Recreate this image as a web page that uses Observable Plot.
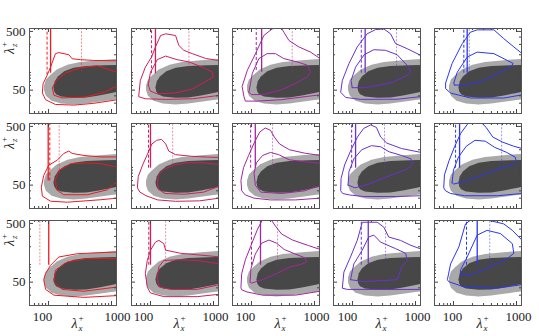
<!DOCTYPE html>
<html><head><meta charset="utf-8">
<script src="https://cdn.jsdelivr.net/npm/d3@7"></script>
<script src="https://cdn.jsdelivr.net/npm/@observablehq/plot@0.6"></script>
<style>
body{margin:0;background:#fff;}
#chart{position:relative;width:539px;height:336px;overflow:hidden;font-family:"Liberation Serif","DejaVu Serif",serif;color:#222;}
.lab{position:absolute;white-space:nowrap;line-height:1;}
.lam{position:relative;display:inline-block;font-style:italic;font-size:14px;line-height:14px;}
.sup{position:absolute;left:100%;top:-3px;font-size:9px;line-height:9px;font-style:normal;margin-left:1px;}
.sub{position:absolute;left:100%;top:7px;font-size:9px;line-height:9px;font-style:italic;margin-left:1px;}
.ylab{transform:translate(-50%,-50%) rotate(-90deg);padding-right:6px;}
</style></head><body><div id="chart"></div>
<script>
// axes
const xDomain = [50, 1200];
const yDomain = [20, 560];
const xMajor = [100, 1000];
const xMinor = [60, 70, 80, 90, 200, 300, 400, 500, 600, 700, 800, 900];
const yMajor = [50, 500];
const yMinor = [20, 30, 40, 60, 70, 80, 90, 100, 200, 300, 400];
const colColors = ["#ea1b24", "#d01f5c", "#a1279d", "#6b31cc", "#2c36ee"];

// reference (filled) contours [lambda_x, lambda_z]
const lightGray = [[85,60],[91,76],[105,89],[135,112],[200,135],[316,151],[631,162],[1259,170],[1585,174],[1585,35.5],[1000,33.9],[631,31.6],[398,29.5],[251,28.5],[158,29.5],[112,33],[91,40],[85,50]];
const darkGray = [[120,56],[126,71],[141,85],[178,105],[251,120],[398,129],[794,132],[1585,135],[1585,50],[1000,44.7],[631,40.7],[398,37.6],[251,37.2],[158,38.9],[132,42.7],[123,47.9]];

// coloured contour lines per panel
const r1c1Outer = [[1610,37],[1230,34.3],[524,29.8],[253,27.8],[129,28.5],[90,34.3],[80,44.9],[82,64],[95,89],[108,123],[129,209],[146,218],[211,200],[238,171],[322,165],[524,160],[1230,158],[1610,157]];
const r1c1Inner = [[1610,65],[1230,60],[760,45.6],[365,38],[165,36.8],[122,41],[115,55],[134,73],[186,98],[322,120],[595,130],[1230,101],[1610,95]];
const r1c2Outer = [[1610,40.5],[1190,40.5],[460,35.6],[174,34.8],[83,35.6],[65,38.7],[69,73],[83,123],[104,183],[120,272],[145,426],[174,455],[250,426],[282,288],[338,238],[460,209],[750,173],[1190,160],[1610,147]];
const r1c2Inner = [[92,61],[100,101],[128,165],[174,190],[265,165],[407,151],[663,123],[970,101],[970,82],[750,70],[460,52],[250,45],[130,43],[100,48],[92,61]];
const r1c3Outer = [[1610,40],[1215,41.6],[290,34.3],[123,32.5],[80,32.5],[76,38.7],[71,57.7],[86,109],[116,209],[157,426],[213,550],[290,600],[326,485],[393,350],[565,272],[866,222],[1215,173],[1610,160]];
const r1c3Inner = [[91,46],[103,96],[131,172],[177,209],[241,209],[326,172],[532,151],[767,133],[866,101],[767,84],[500,65],[290,50],[150,42],[100,42],[91,46]];
const r1c4Outer = [[1610,38],[1200,38.7],[512,35],[134,34.8],[78,37.5],[65,46],[69,73],[88,142],[119,272],[171,455],[233,537],[315,550],[402,455],[482,310],[742,253],[1200,196],[1610,175]];
const r1c4Inner = [[99,55],[95,73],[112,123],[153,200],[218,244],[335,238],[512,200],[783,123],[839,101],[742,89],[402,66],[153,55],[99,55]];
const r1c5Outer = [[1610,40],[1230,41.6],[628,36.7],[186,36.7],[90,44.6],[75,53],[75,66],[95,142],[138,310],[186,485],[238,531],[438,531],[628,376],[907,272],[1230,209],[1610,185]];
const r1c5Inner = [[104,61],[101,66],[115,101],[165,183],[238,222],[438,209],[714,160],[885,142],[806,123],[628,109],[438,89],[270,69.5],[146,61],[104,61]];
const r2c1Outer = [[1610,30],[1230,30],[670,28.2],[199,25.6],[108,26.6],[80,32.5],[77,46],[84,73],[101,109],[138,133],[175,173],[210,190],[238,173],[365,160],[670,151],[1230,151],[1610,151]];
const r2c1Inner = [[1610,52],[1230,57.7],[858,41.6],[412,34.3],[175,34.3],[134,41.6],[129,61.5],[146,89],[225,116],[412,119],[670,116],[1230,101],[1610,98]];
const r2c2Outer = [[1610,30],[1230,30],[600,27],[250,26.5],[130,28],[85,33],[68,38],[62,45],[64,70],[75,110],[90,170],[105,250],[125,290],[150,300],[175,250],[195,190],[250,165],[450,155],[800,150],[1230,148],[1610,147]];
const r2c2Inner = [[1610,55],[1230,48],[700,38],[350,35],[170,36],[135,42],[128,55],[135,75],[170,95],[250,112],[400,120],[700,120],[1230,112],[1610,110]];
const r2c3Outer = [[1610,30],[1230,30],[500,28],[200,28],[110,30],[80,34],[70,40],[68,60],[75,100],[90,160],[110,260],[135,400],[165,470],[200,430],[230,330],[280,250],[400,200],[700,175],[1230,160],[1610,155]];
const r2c3Inner = [[1610,55],[1230,50],[700,40],[300,36],[140,38],[115,50],[110,80],[120,120],[150,160],[200,180],[270,165],[400,135],[700,125],[1230,118],[1610,115]];
const r2c4Outer = [[1610,33],[1230,33],[500,32],[150,32],[90,34],[70,36],[65,40],[66,65],[75,110],[95,200],[120,330],[150,460],[195,530],[240,480],[280,330],[350,260],[600,210],[1230,180],[1610,170]];
const r2c4Inner = [[85,50],[88,85],[105,140],[140,200],[200,235],[280,225],[380,185],[600,160],[850,140],[900,115],[750,95],[500,80],[300,65],[180,52],[110,45],[85,50]];
const r2c5Outer = [[1610,36],[1230,36],[500,33],[150,33],[90,36],[75,40],[70,45],[72,75],[85,130],[105,230],[130,380],[170,560],[260,620],[330,480],[420,330],[600,270],[900,230],[1230,210],[1610,200]];
const r2c5Inner = [[95,55],[100,90],[120,150],[160,230],[220,290],[320,280],[450,220],[700,180],[950,150],[1000,125],[850,110],[600,100],[400,85],[250,70],[150,58],[100,52],[95,55]];
const r3c1Outer = [[1610,29],[1230,29.5],[365,27.5],[122,30],[90,37.6],[84,55],[90,70],[108,97],[146,134],[285,152],[595,158],[1230,163],[1610,165]];
const r3c1Inner = [[1610,42],[1230,41.3],[365,35],[165,37.6],[122,50.7],[129,80],[199,110],[417,126],[1230,126],[1610,126]];
const r3c2Outer = [[1610,30],[1215,31],[550,28.3],[163,28.3],[100,32.7],[89,41],[83,70],[89,117],[100,175],[120,240],[136,257],[163,226],[174,175],[300,155],[550,146],[1215,135],[1610,132]];
const r3c2Inner = [[1610,45],[1215,45],[550,37.6],[208,37.6],[136,41.5],[128,61],[136,91],[163,117],[300,120],[550,117],[1215,103],[1610,100]];
const r3c3Outer = [[1610,35],[1230,35],[500,30],[150,30],[85,34],[70,37],[68,40],[70,70],[80,120],[100,220],[125,400],[150,580],[200,600],[240,450],[300,330],[450,260],[800,210],[1230,180],[1610,170]];
const r3c3Inner = [[95,50],[98,85],[115,150],[145,230],[190,260],[250,230],[330,180],[500,150],[700,130],[750,110],[600,100],[400,90],[250,70],[150,55],[100,48],[95,50]];
const r3c4Outer = [[1610,37],[1170,37.6],[300,37.6],[83,37.6],[69,39.4],[73,74],[93,134],[119,257],[143,523],[247,523],[315,430],[376,293],[577,257],[839,212],[1170,186],[1610,170]];
const r3c4Inner = [[93,55],[105,102],[143,175],[181,293],[218,316],[279,240],[482,186],[697,155],[742,116],[600,90],[512,55],[153,51],[93,55]];
const r3c5Outer = [[1610,47],[1230,45.4],[495,39.4],[146,41.5],[84,51],[80,55],[90,102],[122,200],[155,490],[200,600],[285,600],[628,490],[858,381],[1230,257],[1610,220]];
const r3c5Inner = [[129,66.5],[129,80],[165,134],[238,316],[342,381],[556,335],[858,226],[907,155],[714,126],[342,86],[186,66.5],[129,66.5]];

// vertical lines: [row, col, style, lambda_x, lambda_z lower end]
const verticalLines = [
  [1,1,"dashed",95,90],[1,1,"solid",108,97],[1,1,"light",334,101],
  [1,2,"dashed",104,95],[1,2,"solid",120,95],[1,2,"light",407,101],
  [1,3,"dashed",119,108],[1,3,"solid",145,101],[1,3,"light",443,101],
  [1,4,"dashed",138,97],[1,4,"solid",159,97],[1,4,"light",500,97],
  [1,5,"dashed",146,97],[1,5,"solid",165,97],[1,5,"light",178,97],
  [2,1,"solid",99,59],[2,1,"dashed",105,59],[2,1,"light",148,79],
  [2,2,"dashed",93,97],[2,2,"solid",100,97],[2,2,"light",225,97],
  [2,3,"dashed",97,97],[2,3,"solid",115,97],[2,3,"light",216,97],
  [2,4,"dashed",97,97],[2,4,"solid",112,97],[2,4,"light",322,97],
  [2,5,"dashed",108,97],[2,5,"solid",125,97],[2,5,"light",580,97],
  [3,1,"light",73,97],[3,1,"solid",101,97],
  [3,2,"dashed",94,97],[3,2,"solid",100,97],[3,2,"light",174,97],
  [3,3,"dashed",100,97],[3,3,"solid",139,97],[3,3,"light",259,97],
  [3,4,"dashed",138,97],[3,4,"solid",178,104],[3,4,"light",335,104],
  [3,5,"dashed",161,97],[3,5,"solid",238,97],[3,5,"light",376,97]
];

const contours = {
  r1c1:[r1c1Outer,r1c1Inner], r1c2:[r1c2Outer,r1c2Inner], r1c3:[r1c3Outer,r1c3Inner], r1c4:[r1c4Outer,r1c4Inner], r1c5:[r1c5Outer,r1c5Inner],
  r2c1:[r2c1Outer,r2c1Inner], r2c2:[r2c2Outer,r2c2Inner], r2c3:[r2c3Outer,r2c3Inner], r2c4:[r2c4Outer,r2c4Inner], r2c5:[r2c5Outer,r2c5Inner],
  r3c1:[r3c1Outer,r3c1Inner], r3c2:[r3c2Outer,r3c2Inner], r3c3:[r3c3Outer,r3c3Inner], r3c4:[r3c4Outer,r3c4Inner], r3c5:[r3c5Outer,r3c5Inner]
};

const W = 87, H = 85;
const lefts = [29, 131, 232, 333, 434];
const tops = [28, 123, 220];
// horizontal nudges of the x tick labels, as placed in the reference
const dx100 = [-6, -7, -6, -5, -1];
const dx1000 = [6, 2, 2, 2, 2];
const chart = document.getElementById("chart");
const styleOf = {
  solid: {strokeWidth: 1.3},
  dashed: {strokeWidth: 1, strokeDasharray: "3,2"},
  light: {strokeWidth: 1, strokeDasharray: "2,1.5", strokeOpacity: 0.5}
};
const X = d => d[0], Y = d => d[1];

for (let r = 0; r < 3; r++) {
  for (let c = 0; c < 5; c++) {
    const key = `r${r+1}c${c+1}`;
    const color = colColors[c];
    const [outer, inner] = contours[key];
    const vls = verticalLines.filter(d => d[0] === r+1 && d[1] === c+1);
    const marks = [
      Plot.line(lightGray, {x: X, y: Y, fill: "#a9a9a9", stroke: "none", clip: true}),
      Plot.line(darkGray, {x: X, y: Y, fill: "#474747", stroke: "none", clip: true}),
      Plot.line(outer, {x: X, y: Y, stroke: color, strokeWidth: 1, clip: true}),
      Plot.line(inner, {x: X, y: Y, stroke: color, strokeWidth: 1, clip: true})
    ];
    for (const s of ["light", "dashed", "solid"]) {
      const sel = vls.filter(d => d[2] === s);
      marks.push(Plot.ruleX(sel, {x: d => d[3], y1: d => d[4], y2: () => yDomain[1], stroke: color, ...styleOf[s], clip: true}));
    }
    marks.push(
      Plot.ruleX(xMajor, {x: d => d, insetTop: H - 4, stroke: "#444"}),
      Plot.ruleX(xMajor, {x: d => d, insetBottom: H - 4, stroke: "#444"}),
      Plot.ruleX(xMinor, {x: d => d, insetTop: H - 2, stroke: "#444"}),
      Plot.ruleX(xMinor, {x: d => d, insetBottom: H - 2, stroke: "#444"}),
      Plot.ruleY(yMajor, {y: d => d, insetRight: W - 4, stroke: "#444"}),
      Plot.ruleY(yMajor, {y: d => d, insetLeft: W - 4, stroke: "#444"}),
      Plot.ruleY(yMinor, {y: d => d, insetRight: W - 2, stroke: "#444"}),
      Plot.ruleY(yMinor, {y: d => d, insetLeft: W - 2, stroke: "#444"}),
      Plot.frame({stroke: "#555", strokeWidth: 1})
    );
    if (r === 2) {
      marks.push(Plot.text([xMajor[0]], {x: d => d, frameAnchor: "bottom", dy: 15, dx: dx100[c], text: d => String(d), fill: "#222"}));
      marks.push(Plot.text([xMajor[1]], {x: d => d, frameAnchor: "bottom", dy: 15, dx: dx1000[c], text: d => String(d), fill: "#222"}));
    }
    if (c === 0) marks.push(Plot.text(yMajor, {y: d => d, frameAnchor: "left", dx: -4, textAnchor: "end", text: d => String(d), fill: "#222"}));
    const svg = Plot.plot({
      width: W, height: H,
      marginTop: 0, marginRight: 0, marginBottom: 0, marginLeft: 0,
      x: {type: "log", domain: xDomain, axis: null},
      y: {type: "log", domain: yDomain, axis: null},
      style: {background: "none", overflow: "visible", fontFamily: "'Liberation Serif', 'DejaVu Serif', serif", fontSize: "13px", color: "#222"},
      marks
    });
    svg.style.position = "absolute";
    svg.style.left = lefts[c] + "px";
    svg.style.top = tops[r] + "px";
    chart.appendChild(svg);
  }
}

// axis titles
const lamHTML = sub => '<span class="lam">λ<span class="sup">+</span><span class="sub">' + sub + '</span></span>';
for (let c = 0; c < 5; c++) {
  const d = document.createElement("div");
  d.className = "lab";
  d.innerHTML = lamHTML("x");
  d.style.left = (lefts[c] + W / 2 - 1) + "px";
  d.style.top = "315px";
  chart.appendChild(d);
}
for (let r = 0; r < 3; r++) {
  const d = document.createElement("div");
  d.className = "lab ylab";
  d.innerHTML = lamHTML("z");
  d.style.left = "9px";
  d.style.top = (tops[r] + 20) + "px";
  chart.appendChild(d);
}
</script></body></html>
